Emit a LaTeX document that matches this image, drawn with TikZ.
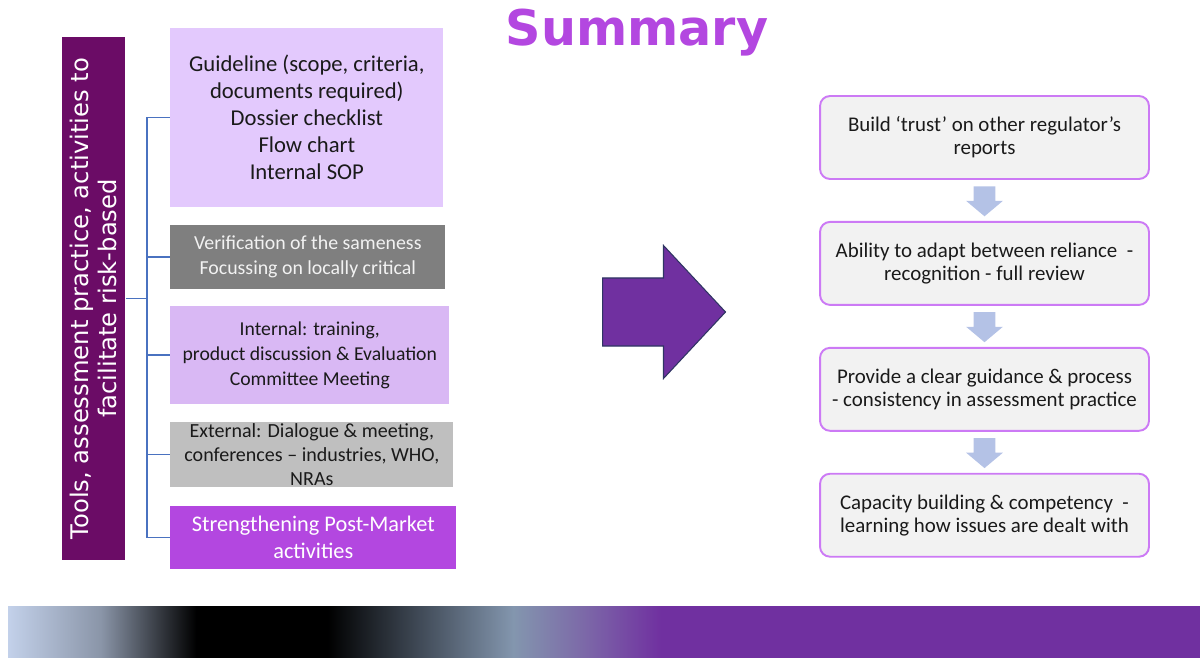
\documentclass[tikz,border=0pt]{standalone}
\usepackage{fontspec}
\setmainfont{Carlito}
\newfontfamily\verdana{DejaVu Sans}
\usetikzlibrary{positioning, calc, shapes.arrows}

\definecolor{titlepurple}{HTML}{B347E0}
\definecolor{barpurple}{HTML}{6B0C66}
\definecolor{lilac}{HTML}{E3C9FD}
\definecolor{lilacdark}{HTML}{D9B8F4}
\definecolor{greydark}{HTML}{7F7F7F}
\definecolor{greylight}{HTML}{BFBFBF}
\definecolor{linkblue}{HTML}{4A72C0}
\definecolor{stepfill}{HTML}{F2F2F2}
\definecolor{stepedge}{HTML}{CC7AF5}
\definecolor{arrowblue}{HTML}{B4C2E6}
\definecolor{arrowpurple}{HTML}{7030A0}
\definecolor{arrowline}{HTML}{2F3563}
\definecolor{textdark}{HTML}{1A1A1A}

% colour stops of the strip along the bottom
\definecolor{bandA}{HTML}{C3D1EA}
\definecolor{bandB}{HTML}{8A95A8}
\definecolor{bandC}{HTML}{414B58}
\definecolor{bandD}{HTML}{8396AE}
\definecolor{bandE}{HTML}{7C68A8}
\pgfdeclarehorizontalshading{bandshade}{100bp}{color(0bp)=(bandA); color(25bp)=(bandA);
  color(28.9bp)=(bandB); color(32.9bp)=(black); color(38.4bp)=(black);
  color(42.3bp)=(bandC); color(46.2bp)=(bandD); color(49.2bp)=(bandE);
  color(52.4bp)=(arrowpurple); color(100bp)=(arrowpurple)}

\tikzset{
  toolbox/.style={anchor=west, align=center, inner sep=1pt, text=textdark},
  stepbox/.style={draw=stepedge, line width=1.1pt, fill=stepfill, rounded corners=0.2cm,
    minimum width=6.58cm, minimum height=1.66cm, align=center, text=textdark,
    font=\fontsize{11.9pt}{13.1pt}\selectfont},
  flowarrow/.style={single arrow, rotate=-90, anchor=tail, fill=arrowblue, inner xsep=0pt,
    inner ysep=0.21cm, minimum height=0.6cm, single arrow head extend=0.15cm,
    single arrow head indent=0pt, single arrow tip angle=100},
  link/.style={draw=linkblue, line width=0.9pt}
}

\begin{document}
\begin{tikzpicture}[x=0.02cm, y=-0.02cm]
  \useasboundingbox (0,0) rectangle (1200,658);

  \node[anchor=base, text=titlepurple, font=\verdana\bfseries\fontsize{28pt}{30pt}\selectfont]
    (title) at (637,46) {Summary};

  % left column
  \node[fill=barpurple, minimum width=1.28cm, minimum height=10.46cm, inner sep=0pt]
    (tools) at (93.5,298.5) {};
  \node[rotate=90, align=center, text=white, font=\verdana\fontsize{13.8pt}{16pt}\selectfont]
    (toolstext) at (tools.center) {Tools, assessment practice, activities to\\facilitate risk-based};

  \node[toolbox, fill=lilac, minimum width=5.46cm, minimum height=3.58cm,
    font=\fontsize{12.9pt}{15.4pt}\selectfont] (g1) at (170,117.5)
    {Guideline (scope, criteria,\\documents required)\\Dossier checklist\\Flow chart\\Internal SOP};
  \node[toolbox, fill=greydark, text=stepfill, minimum width=5.5cm, minimum height=1.28cm,
    font=\fontsize{11.3pt}{14.2pt}\selectfont] (g2) at (170,257)
    {Verification of the sameness\\Focussing on locally critical};
  \node[toolbox, fill=lilacdark, minimum width=5.58cm, minimum height=1.96cm,
    font=\fontsize{11.2pt}{14.2pt}\selectfont] (g3) at (170,355)
    {Internal: training,\\product discussion \& Evaluation\\Committee Meeting};
  \node[toolbox, fill=greylight, minimum width=5.66cm, minimum height=1.3cm,
    font=\fontsize{11.4pt}{13.7pt}\selectfont] (g4) at (170,454.5)
    {External: Dialogue \& meeting,\\conferences -- industries, WHO,\\NRAs};
  \node[toolbox, fill=titlepurple, text=white, minimum width=5.72cm, minimum height=1.26cm,
    font=\fontsize{12.7pt}{15.4pt}\selectfont] (g5) at (170,537.5)
    {Strengthening Post-Market\\activities};

  \coordinate (spine) at (147,298.5);
  \draw[link] (tools.east) -- (spine);
  \draw[link] (spine |- g1.west) -- (spine |- g5.west);
  \foreach \g in {g1,g2,g3,g4,g5}
    \draw[link] (spine |- \g.west) -- (\g.west);

  % big arrow in the middle
  \node[single arrow, anchor=tail, fill=arrowpurple, draw=arrowline, line width=0.6pt,
    inner xsep=0pt, inner ysep=0.67cm, minimum height=2.46cm, single arrow head extend=0.65cm,
    single arrow head indent=0pt, single arrow tip angle=94] (bigarrow) at (602,312) {};

  % right column
  \node[stepbox] (r1) at (984.5,137.5) {Build ‘trust’ on other regulator’s\\reports};
  \node[stepbox, below=0.82cm of r1] (r2) {Ability to adapt between reliance \ -\\recognition - full review};
  \node[stepbox, below=0.82cm of r2] (r3) {Provide a clear guidance \& process\\- consistency in assessment practice};
  \node[stepbox, below=0.82cm of r3] (r4) {Capacity building \& competency \ -\\learning how issues are dealt with};

  \node[flowarrow] (d1) at ($(r1.south)+(0,6)$) {};
  \node[flowarrow] (d2) at ($(r2.south)+(0,6)$) {};
  \node[flowarrow] (d3) at ($(r3.south)+(0,6)$) {};

  % strip along the bottom
  \shade[shading=bandshade] (8,606) rectangle (1200,658);
\end{tikzpicture}
\end{document}
